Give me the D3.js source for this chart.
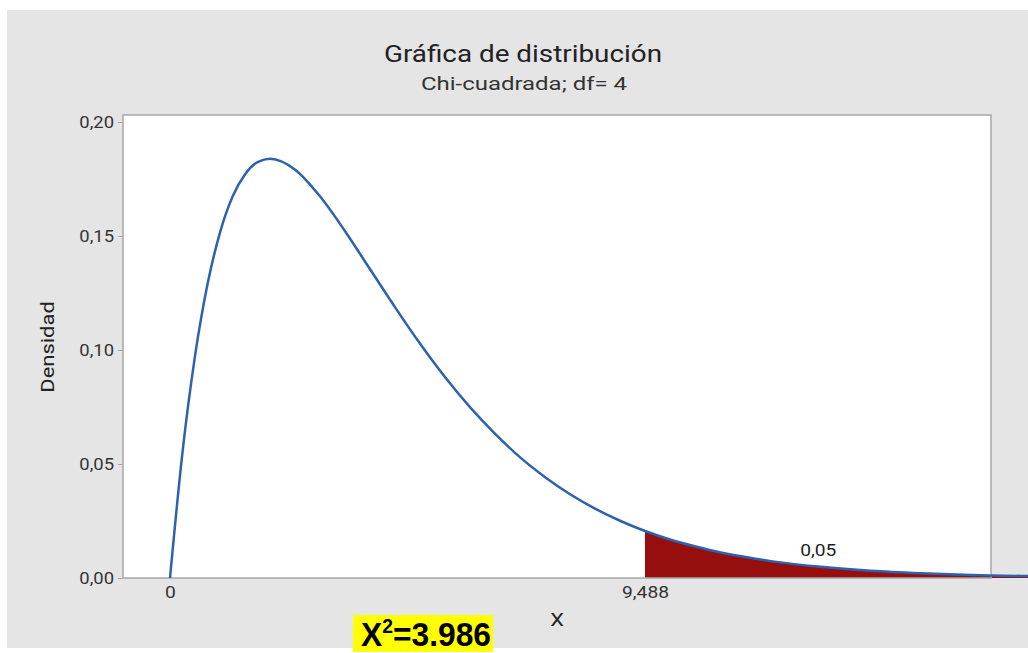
<!DOCTYPE html>
<html>
<head>
<meta charset="utf-8">
<script src="https://cdn.jsdelivr.net/npm/d3@7"></script>
<style>
  html, body { margin: 0; padding: 0; background: #fff; }
  svg { display: block; font-family: Roboto, "Noto Sans", sans-serif; }
</style>
</head>
<body>
<div id="chart"></div>
<script>
// chi-square df=4 density
var xs = [0, 0.25, 0.5, 0.75, 1, 1.25, 1.5, 1.75, 2, 2.5, 3, 3.5, 4, 4.5, 5, 5.5, 6, 6.5,
          7, 7.5, 8, 8.5, 9, 9.488, 10, 10.5, 11, 11.5, 12, 13, 14, 15, 16, 17, 17.5];
var densities = [0, 0.0552, 0.0974, 0.1289, 0.1516, 0.1673, 0.1771, 0.1824, 0.1839, 0.1791,
                 0.1673, 0.1520, 0.1353, 0.1186, 0.1026, 0.0879, 0.0747, 0.0631, 0.0528,
                 0.0441, 0.0366, 0.0303, 0.0250, 0.0206, 0.0168, 0.0138, 0.0112, 0.0092,
                 0.0074, 0.0049, 0.0032, 0.0021, 0.0013, 0.0009, 0.0007];
var yTicks = [0, 0.05, 0.10, 0.15, 0.20];
var xTicks = [0, 9.488];
var critical = 9.488;
var tailArea = "0,05";
var title = "Gráfica de distribución";
var subtitle = "Chi-cuadrada; df= 4";
var statLabel = "3.986";

var W = 1028, H = 653;
var plot = { left: 123, right: 991, top: 115, bottom: 578 };

// the original's lettering is a bit wider than Roboto, stretch it
function widen(sel, k) {
  sel.each(function() {
    var len = this.getComputedTextLength();
    d3.select(this)
      .attr("textLength", len * k)
      .attr("lengthAdjust", "spacingAndGlyphs");
  });
}

var svg = d3.select("#chart").append("svg")
    .attr("width", W)
    .attr("height", H);

// gray frame
svg.append("rect")
    .attr("x", 7).attr("y", 10)
    .attr("width", W - 7).attr("height", 638)
    .attr("fill", "#e5e5e5");

svg.append("rect")
    .attr("x", plot.left).attr("y", plot.top)
    .attr("width", plot.right - plot.left).attr("height", plot.bottom - plot.top)
    .attr("fill", "#fff");

var x = d3.scaleLinear().domain([0, critical]).range([170, 645]);
var y = d3.scaleLinear().domain([0, 0.2]).range([plot.bottom, 122]);

var pts = xs.map(function(d, i) { return { x: d, y: densities[i] }; });

// shaded tail
var tail = pts.filter(function(d) { return d.x >= critical; });
svg.append("path")
    .datum(tail)
    .attr("fill", "#960e0e")
    .attr("d", d3.area()
      .x(function(d) { return x(d.x); })
      .y0(y(0))
      .y1(function(d) { return y(d.y); })
      .curve(d3.curveMonotoneX));

// border
svg.append("rect")
    .attr("x", plot.left).attr("y", plot.top)
    .attr("width", plot.right - plot.left).attr("height", plot.bottom - plot.top)
    .attr("fill", "none")
    .attr("stroke", "#a8a8a8")
    .attr("stroke-width", 1.5);

// y axis
var yAxis = svg.append("g")
    .attr("transform", "translate(" + plot.left + ",0)")
    .call(d3.axisLeft(y)
      .tickValues(yTicks)
      .tickSize(5)
      .tickPadding(4)
      .tickFormat(function(d) { return d3.format(".2f")(d).replace(".", ","); }));
yAxis.select(".domain").remove();
yAxis.selectAll("line").attr("stroke", "#a8a8a8");
yAxis.selectAll("text")
    .attr("fill", "#333")
    .style("font-size", "16px")
    .style("font-family", "Roboto, sans-serif");
widen(yAxis.selectAll("text"), 1.15);

// x axis
var xAxis = svg.append("g")
    .attr("transform", "translate(0," + plot.bottom + ")")
    .call(d3.axisBottom(x)
      .tickValues(xTicks)
      .tickSize(0)
      .tickPadding(9)
      .tickFormat(function(d) { return d === 0 ? "0" : d3.format(".3f")(d).replace(".", ","); }));
xAxis.select(".domain").remove();
xAxis.selectAll("text")
    .attr("fill", "#333")
    .style("font-size", "16px")
    .style("font-family", "Roboto, sans-serif");
widen(xAxis.selectAll("text"), 1.2);

// density curve (runs past the frame like the original)
svg.append("path")
    .datum(pts)
    .attr("fill", "none")
    .attr("stroke", "#2d62ad")
    .attr("stroke-width", 2.5)
    .attr("d", d3.line()
      .x(function(d) { return x(d.x); })
      .y(function(d) { return y(d.y); })
      .curve(d3.curveMonotoneX));

// tail probability
widen(svg.append("text")
    .attr("x", x(12.95)).attr("y", 556)
    .attr("text-anchor", "middle")
    .attr("fill", "#222")
    .style("font-size", "16px")
    .text(tailArea), 1.2);

// titles
widen(svg.append("text")
    .attr("x", 523).attr("y", 62)
    .attr("text-anchor", "middle")
    .attr("fill", "#222")
    .style("font-size", "23px")
    .text(title), 1.21);

widen(svg.append("text")
    .attr("x", 524).attr("y", 90)
    .attr("text-anchor", "middle")
    .attr("fill", "#333")
    .style("font-size", "18px")
    .text(subtitle), 1.33);

widen(svg.append("text")
    .attr("x", 557).attr("y", 626)
    .attr("text-anchor", "middle")
    .attr("fill", "#222")
    .style("font-size", "19px")
    .text("X"), 1.15);

widen(svg.append("text")
    .attr("transform", "translate(54,347) rotate(-90)")
    .attr("text-anchor", "middle")
    .attr("fill", "#222")
    .style("font-size", "18px")
    .text("Densidad"), 1.22);

// highlighted statistic
svg.append("rect")
    .attr("x", 353).attr("y", 615)
    .attr("width", 140).attr("height", 37)
    .attr("fill", "#ffff00");

var stat = svg.append("text")
    .attr("x", 426).attr("y", 646)
    .attr("text-anchor", "middle")
    .attr("fill", "#000")
    .style("font-family", "'Liberation Sans', Arial, sans-serif")
    .style("font-weight", "bold")
    .style("font-size", "33px")
    .attr("textLength", 130)
    .attr("lengthAdjust", "spacingAndGlyphs");
stat.append("tspan").text("X");
stat.append("tspan").attr("dy", -13).style("font-size", "20px").text("2");
stat.append("tspan").attr("dy", 13).text("=" + statLabel);
</script>
</body>
</html>
